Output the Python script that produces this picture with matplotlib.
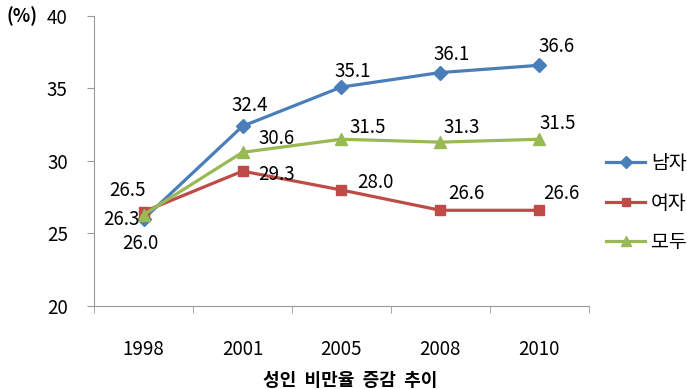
import matplotlib.pyplot as plt

plt.rcParams['font.family'] = ['Noto Sans CJK KR', 'DejaVu Sans']

years = ["1998", "2001", "2005", "2008", "2010"]
male = [26.0, 32.4, 35.1, 36.1, 36.6]
female = [26.5, 29.3, 28.0, 26.6, 26.6]
total = [26.3, 30.6, 31.5, 31.3, 31.5]
names = ["남자", "여자", "모두"]
caption = "성인  비만율  증감  추이"

# label offsets in pixels (style only)
male_off = [(-3, -25), (7, 21), (11, 16), (11, 18), (17, 19)]
female_off = [(-16, 21), (34, -3), (34, 7), (26, 17), (22, 17)]
total_off = [(-22, -5), (34, 14), (26, 12), (21, 15), (18, 16)]

fig = plt.figure(figsize=(6.87, 3.89), dpi=100)
ax = fig.add_axes([0.137, 0.2134, 0.72, 0.7455])

x = list(range(len(years)))
series = [
    (male, "#4A7EBB", "D", 7, male_off),
    (female, "#BE4B48", "s", 7.5, female_off),
    (total, "#98B954", "^", 8, total_off),
]
for (vals, col, mk, ms, offs), name in zip(series, names):
    ax.plot(x, vals, color=col, marker=mk, markersize=ms, linewidth=2.3, label=name)

for vals, col, mk, ms, offs in series:
    for xi, v, (dx, dy) in zip(x, vals, offs):
        ax.annotate(f"{v:.1f}", (xi, v), xytext=(dx, dy), textcoords="offset pixels",
                    ha="center", va="center", fontsize=13.5, color="black")

ax.set_xlim(-0.5, len(years) - 0.5)
ax.set_ylim(20, 40)
ax.set_yticks([20, 25, 30, 35, 40])
ax.tick_params(axis="y", labelsize=13.5, length=5, color="#999999", pad=14)
ax.set_xticks(x)
ax.set_xticklabels(years)
ax.set_xticks([i - 0.5 for i in range(len(years) + 1)], minor=True)
ax.tick_params(axis="x", which="major", length=0, labelsize=13.5, pad=24)
ax.tick_params(axis="x", which="minor", length=5, color="#999999")
for s in ["top", "right"]:
    ax.spines[s].set_visible(False)
for s in ["left", "bottom"]:
    ax.spines[s].set_color("#999999")

fig.text(0.010, 0.958, "(%)", fontsize=13, fontweight="bold", va="center", ha="left")
fig.text(0.51, 0.022, caption, fontsize=13, fontweight="bold", ha="center", va="center")

ax.legend(loc="center left", bbox_to_anchor=(1.0, 0.355), frameon=False, fontsize=14,
          handlelength=2.0, labelspacing=0.95, handletextpad=0.3, markerscale=0.85)

fig.savefig("out.png", dpi=100)
